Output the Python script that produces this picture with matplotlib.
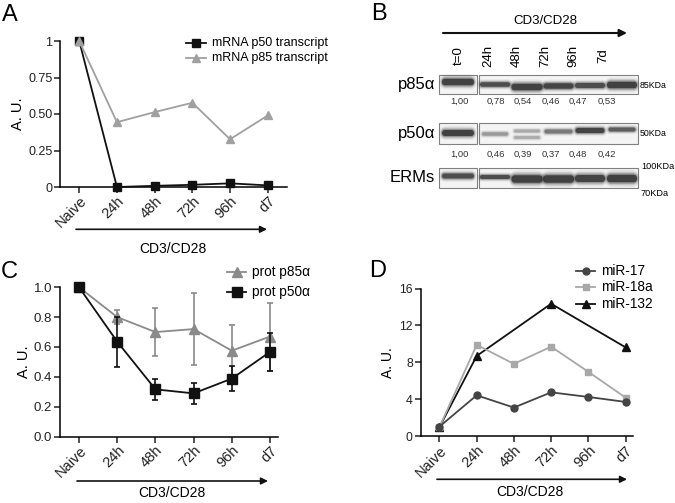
import numpy as np
import matplotlib
matplotlib.use('Agg')
import matplotlib.pyplot as plt
from matplotlib.patches import Rectangle, FancyBboxPatch
from matplotlib.lines import Line2D

plt.rcParams['font.family'] = ['Liberation Sans', 'DejaVu Sans']
plt.rcParams['axes.linewidth'] = 1.1

# ---- data ----
time_labels = ['Naive', '24h', '48h', '72h', '96h', 'd7']

# A: mRNA
mrna_p50 = [1.0, 0.0, 0.008, 0.015, 0.025, 0.011]
mrna_p85 = [1.0, 0.444, 0.513, 0.577, 0.327, 0.49]

# C: protein (mean, error)
prot_p85 = [1.0, 0.80, 0.70, 0.72, 0.575, 0.67]
prot_p85_err = [0.0, 0.045, 0.162, 0.243, 0.17, 0.228]
prot_p50 = [1.0, 0.635, 0.316, 0.289, 0.388, 0.567]
prot_p50_err = [0.0, 0.167, 0.071, 0.072, 0.084, 0.128]

# D: miRNA
mir17 = [1.05, 4.44, 3.11, 4.76, 4.26, 3.72]
mir18a = [1.0, 9.9, 7.84, 9.7, 6.98, 4.19]
mir132_idx = [0, 1, 3, 5]
mir132 = [1.0, 8.7, 14.35, 9.63]

# B: western blot
blot_lanes = ['t=0', '24h', '48h', '72h', '96h', '7d']
p85_quant = ['1,00', '0,78', '0,54', '0,46', '0,47', '0,53']
p50_quant = ['1,00', '0,46', '0,39', '0,37', '0,48', '0,42']

W, H = 675, 503
fig = plt.figure(figsize=(W / 100, H / 100), dpi=100)


def ax_px(x0, y0, x1, y1):
    return fig.add_axes([x0 / W, 1 - y1 / H, (x1 - x0) / W, (y1 - y0) / H])


def style(ax, yticks, ylabels, ysize, xsize):
    for s in ['top', 'right']:
        ax.spines[s].set_visible(False)
    ax.tick_params(direction='out', length=4, width=1.1, colors='#222222')
    ax.tick_params(axis='y', pad=1.5)
    ax.tick_params(axis='x', pad=1.0)
    ax.set_yticks(yticks)
    ax.set_yticklabels(ylabels, fontsize=ysize)
    ax.set_xticks(range(6))
    ax.set_xticklabels(time_labels, rotation=45, ha='right', rotation_mode='anchor',
                       fontsize=xsize)


x = np.arange(6)
GRAY_A = '#a0a0a0'
GRAY_C = '#8a8a8a'

# ---- panel A ----
axA = ax_px(60, 41, 287, 187)
axA.plot(x, mrna_p50, color='#111111', lw=1.3, marker='s', ms=5.5, clip_on=False, zorder=3)
axA.plot(x, mrna_p85, color=GRAY_A, lw=1.3, marker='^', ms=6, clip_on=False, zorder=4)
axA.set_xlim(-0.51, 5.51)
axA.set_ylim(0, 1)
style(axA, [0, 0.25, 0.5, 0.75, 1], ['0', '0.25', '0.50', '0.75', '1'], 9, 10.5)
axA.set_ylabel('A. U.', fontsize=10.5, labelpad=2)

# ---- panel C ----
axC = ax_px(60, 287.3, 278, 436.5)
axC.errorbar(x, prot_p85, yerr=prot_p85_err, color=GRAY_C, lw=1.3, marker='^', ms=7,
             capsize=2.5, elinewidth=1.2, capthick=1.2, clip_on=False, zorder=3)
axC.errorbar(x, prot_p50, yerr=prot_p50_err, color='#111111', lw=1.3, marker='s', ms=7,
             capsize=2.5, elinewidth=1.2, capthick=1.2, clip_on=False, zorder=4)
axC.set_xlim(-0.5, 5.21)
axC.set_ylim(0, 1)
style(axC, [0, 0.2, 0.4, 0.6, 0.8, 1.0], ['0.0', '0.2', '0.4', '0.6', '0.8', '1.0'], 9.5, 10.5)
axC.set_ylabel('A. U.', fontsize=10.5, labelpad=2)

# ---- panel D ----
axD = ax_px(420.5, 288.5, 633, 436.3)
axD.plot([x[i] for i in mir132_idx], mir132, color='#111111', lw=1.3, marker='^', ms=5.5,
         clip_on=False, zorder=3)
axD.plot(x, mir18a, color='#a8a8a8', lw=1.3, marker='s', ms=5, clip_on=False, zorder=4)
axD.plot(x, mir17, color='#444444', lw=1.3, marker='o', ms=5, clip_on=False, zorder=5)
axD.set_xlim(-0.51, 5.2)
axD.set_ylim(0, 16)
style(axD, [0, 4, 8, 12, 16], ['0', '4', '8', '12', '16'], 8.8, 10.5)
axD.set_ylabel('A. U.', fontsize=10, labelpad=3)

# ---- overlay in pixel coordinates ----
ov = fig.add_axes([0, 0, 1, 1])
ov.set_xlim(0, W)
ov.set_ylim(H, 0)
ov.axis('off')
ov.patch.set_alpha(0)

for lab, (lx, ly) in zip('ABCD', [(2, 15), (371, 14), (1, 272), (369, 271)]):
    ov.text(lx, ly, lab, fontsize=17, va='center', ha='left')


def arrow(x0, x1, y, lw=1.2, ms=10):
    ov.annotate('', xy=(x1, y), xytext=(x0, y),
                arrowprops=dict(arrowstyle='-|>', lw=lw, color='#111111',
                                mutation_scale=ms, shrinkA=0, shrinkB=0))


arrow(76, 267, 229.3)
ov.text(172.7, 249.3, 'CD3/CD28', fontsize=10, ha='center', va='center')
arrow(77, 268, 481)
ov.text(172, 492.7, 'CD3/CD28', fontsize=10, ha='center', va='center')
arrow(437, 627, 479.3)
ov.text(530, 491.7, 'CD3/CD28', fontsize=10, ha='center', va='center')


def legend_row(x0, x1, y, text, color, marker, ms, fs):
    ov.add_line(Line2D([x0, x1], [y, y], color=color, lw=1.3, marker=None))
    ov.add_line(Line2D([(x0 + x1) / 2], [y], color=color, marker=marker, ms=ms))
    ov.text(x1 + 6, y, text, fontsize=fs, va='center', ha='left')


legend_row(186, 206, 43, 'mRNA p50 transcript', '#111111', 's', 5.5, 9)
legend_row(186, 206, 58, 'mRNA p85 transcript', GRAY_A, '^', 6, 9)
legend_row(227, 246, 271.7, 'prot p85\u03b1', GRAY_C, '^', 7, 9.8)
legend_row(227, 246, 291.7, 'prot p50\u03b1', '#111111', 's', 7, 9.8)
legend_row(576, 595, 270.7, 'miR-17', '#444444', 'o', 5, 9.8)
legend_row(576, 595, 287.3, 'miR-18a', '#a8a8a8', 's', 5, 9.8)
legend_row(576, 595, 304, 'miR-132', '#111111', '^', 5.5, 9.8)

# ---- panel B: blot ----
ov.text(545, 20.7, 'CD3/CD28', fontsize=9.5, ha='center', va='center')
arrow(443, 627, 33, lw=1.5, ms=11)
lane_label_x = [459, 488, 517, 545, 573, 603]
for lx, lab in zip(lane_label_x, blot_lanes):
    ov.text(lx, 56, lab, fontsize=9.5, rotation=90, ha='center', va='center')

quant_x = [459, 496, 523, 551, 578, 607]
for qx, a, b in zip(quant_x, p85_quant, p50_quant):
    ov.text(qx, 101.7, a, fontsize=6.8, ha='center', va='center', color='#333333')
    ov.text(qx, 154, b, fontsize=6.8, ha='center', va='center', color='#333333')

rows = [('p85\u03b1', 75, 94), ('p50\u03b1', 123, 144), ('ERMs', 168, 188)]
for name, y0, y1 in rows:
    for bx0, bx1 in [(439, 477), (479, 638)]:
        ov.add_patch(Rectangle((bx0, y0), bx1 - bx0, y1 - y0, facecolor='#f4f4f4',
                               edgecolor='#808080', lw=0.8, zorder=2))
    ov.text(435, (y0 + y1) / 2, name, fontsize=12, ha='right', va='center')

ov.text(640, 85, '85KDa', fontsize=6.3, ha='left', va='center')
ov.text(640, 133, '50KDa', fontsize=6.3, ha='left', va='center')
ov.text(641, 166.7, '100KDa', fontsize=6.6, ha='left', va='center')
ov.text(641, 193.3, '70KDa', fontsize=6.6, ha='left', va='center')

lane_x = [458, 495, 527, 558.5, 590, 622]
# (lane index, y centre, width, height, darkness)
bands = [
    (0, 82, 32, 6.5, 0.85), (1, 84.5, 30, 4.5, 0.8), (2, 87, 31, 6.5, 0.85),
    (3, 86, 30, 5.5, 0.84), (4, 85.5, 30, 5, 0.8), (5, 85, 30, 6.5, 0.85),
    (0, 133, 32, 6, 0.85), (1, 134, 26, 3.5, 0.45), (2, 131, 26, 3, 0.38),
    (2, 137.5, 26, 3, 0.36), (3, 131.5, 28, 4, 0.6), (4, 130.5, 29, 5, 0.84),
    (5, 129.5, 27, 4, 0.72),
    (0, 176, 32, 5, 0.8), (1, 177, 30, 4, 0.8), (2, 179, 31, 7.5, 0.86),
    (3, 179, 31, 7.5, 0.86), (4, 178.5, 30, 7, 0.84), (5, 178.5, 30, 7.5, 0.86),
]
for li, yc, bw, bh, dark in bands:
    col = str(round(1 - dark, 3))
    xc = lane_x[li]
    for grow, alpha in [(2.3, 0.08), (1.8, 0.16), (1.4, 0.3), (1.0, 0.75)]:
        h = bh * grow
        w = bw + (grow - 1) * 4
        ov.add_patch(FancyBboxPatch((xc - w / 2, yc - h / 2), w, h,
                                    boxstyle='round,pad=0,rounding_size=%.2f' % (h / 2),
                                    facecolor=col, edgecolor='none', alpha=alpha, zorder=3))

fig.savefig('out.png', dpi=100)
